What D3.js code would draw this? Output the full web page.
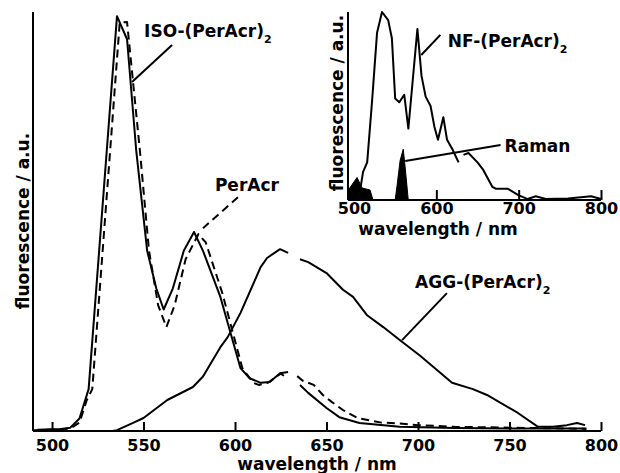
<!DOCTYPE html>
<meta charset="utf-8">
<head>
	<title>Fluorescence spectra</title>
	<style>
		body { margin: 0; background: #fff; }
		text { font-family: "DejaVu Sans", "Liberation Sans", sans-serif; font-weight: bold; fill: #000; }
		.curve { fill: none; stroke: #000; stroke-width: 2; stroke-linejoin: round; }
		.dashed { stroke-dasharray: 8,5; }
		.axis { stroke: #000; stroke-width: 2; fill: none; }
		.lead { stroke: #000; stroke-width: 2; }
	</style>
	<script src="https://d3js.org/d3.v7.min.js"></script>
</head>
<body>
<div id="graph"></div>
<script>
	// main spectra (wavelength in nm, intensity normalised); null = break in the trace at 630 nm
	const isoWl  = [492, 500, 505, 510, 515, 520, 535.5, 541, 546, 552, 557, 561, 566, 572, 577.6, 582.5, 592, 603, 608, 614, 619, 624.6, 629, 630, 635.5, 640, 650, 657, 668, 690, 720, 750, 780, 792];
	const isoVal = [0.003, 0.004, 0.005, 0.008, 0.03, 0.10, 0.99, 0.935, 0.67, 0.43, 0.34, 0.29, 0.34, 0.43, 0.475, 0.43, 0.32, 0.15, 0.126, 0.115, 0.117, 0.138, 0.141, null, 0.11, 0.091, 0.055, 0.033, 0.019, 0.010, 0.007, 0.006, 0.006, 0.006];

	const perWl  = [490, 500, 510, 515, 519, 522, 537, 541, 548, 553, 558, 562.5, 567, 573, 580, 584, 593, 604, 610, 613, 618, 623, 625, 629, 630, 634, 637, 643, 648, 653, 659, 667, 680, 690, 700, 720, 750, 780, 792];
	const perVal = [0.002, 0.003, 0.006, 0.02, 0.074, 0.10, 0.975, 0.976, 0.67, 0.43, 0.30, 0.248, 0.30, 0.41, 0.47, 0.45, 0.33, 0.15, 0.115, 0.11, 0.115, 0.131, 0.137, 0.125, null, 0.131, 0.12, 0.11, 0.086, 0.069, 0.05, 0.031, 0.02, 0.018, 0.014, 0.01, 0.008, 0.006, 0.005];

	const aggWl  = [533, 535.5, 544, 550, 563, 577, 582.5, 592, 596, 603, 614, 617.5, 624.6, 629, 630, 635.5, 640, 650, 659, 664.5, 672, 681, 690, 701, 718.6, 730, 737.7, 754.6, 765.6, 773.8, 781.4, 786.9, 791.3];
	const aggVal = [0, 0.002, 0.019, 0.031, 0.074, 0.105, 0.13, 0.20, 0.224, 0.282, 0.391, 0.413, 0.434, 0.425, null, 0.41, 0.403, 0.377, 0.337, 0.32, 0.277, 0.248, 0.217, 0.18, 0.115, 0.100, 0.086, 0.043, 0.010, 0.010, 0.014, 0.019, 0.014];

	// inset: NF-(PerAcr)2 and Raman band
	const nfWl  = [493, 501, 507, 511, 516, 522, 528, 534, 541.5, 546, 550, 555, 561, 566, 577, 582, 587, 593, 597.6, 602, 608.5, 613, 619.5, 627, 630, 633, 639, 650, 657, 668, 672, 686.6, 699, 711, 720.7, 733, 760, 788, 800];
	const nfVal = [0.005, 0.02, 0.04, 0.15, 0.20, 0.53, 0.89, 1.0, 0.957, 0.86, 0.54, 0.52, 0.56, 0.38, 0.91, 0.66, 0.55, 0.50, 0.39, 0.32, 0.44, 0.32, 0.27, 0.20, null, 0.24, 0.25, 0.20, 0.16, 0.07, 0.06, 0.06, 0.027, 0.005, 0.02, 0.005, 0.008, 0.02, 0.005];

	const ramanWl  = [492.7, 492.7, 503.7, 509.8, 519.5, 523, 550, 552.4, 556, 559.8, 562, 565.9];
	const ramanVal = [0, 0.05, 0.12, 0.064, 0.053, 0, 0, 0.08, 0.21, 0.27, 0.18, 0];

	const mainTicks  = [500, 550, 600, 650, 700, 750, 800];
	const insetTicks = [500, 600, 700, 800];

	const W = 620, H = 473;
	const svg = d3.select('#graph').append('svg').attr('width', W).attr('height', H);

	const zip = (a, b) => a.map((w, i) => [w, b[i]]);

	// main plot
	const x = d3.scaleLinear().domain([489.6, 800]).range([33, 601]);
	const y = d3.scaleLinear().domain([0, 1]).range([431, 12]);
	const line = d3.line().defined(d => d[1] != null).x(d => x(d[0])).y(d => y(d[1]));

	svg.append('path').attr('class', 'curve').attr('d', line(zip(isoWl, isoVal)));
	svg.append('path').attr('class', 'curve dashed').attr('d', line(zip(perWl, perVal)));
	svg.append('path').attr('class', 'curve').attr('d', line(zip(aggWl, aggVal)));

	const xAxis = d3.axisBottom(x).tickValues(mainTicks).tickSizeInner(-9).tickSizeOuter(0);
	const gx = svg.append('g').attr('transform', 'translate(0,431)').call(xAxis);
	gx.select('.domain').attr('stroke-width', 2).attr('d', `M${x.range()[0]},0H${x.range()[1]}`);
	gx.selectAll('.tick line').attr('stroke-width', 2);
	gx.selectAll('.tick text').attr('y', 20).attr('dy', 0).style('font-size', '16px').style('font-family', null);
	svg.append('line').attr('class', 'axis').attr('x1', 33).attr('x2', 33).attr('y1', 431).attr('y2', y.range()[1]);

	svg.append('text').attr('x', 317).attr('y', 470).attr('text-anchor', 'middle').style('font-size', '17px').text('wavelength / nm');
	svg.append('text').attr('transform', 'translate(29,221) rotate(-90)').attr('text-anchor', 'middle').style('font-size', '17px').text('fluorescence / a.u.');

	// inset
	const xi = d3.scaleLinear().domain([492.7, 800]).range([348, 601]);
	const yi = d3.scaleLinear().domain([0, 1]).range([200, 12]);
	const linei = d3.line().defined(d => d[1] != null).x(d => xi(d[0])).y(d => yi(d[1]));

	svg.append('path').attr('d', linei(zip(ramanWl, ramanVal))).attr('fill', '#000').attr('stroke', '#000').attr('stroke-width', 1);
	svg.append('path').attr('class', 'curve').attr('d', linei(zip(nfWl, nfVal)));

	const xiAxis = d3.axisBottom(xi).tickValues(insetTicks).tickSizeInner(-10).tickSizeOuter(0);
	const gxi = svg.append('g').attr('transform', 'translate(0,200)').call(xiAxis);
	gxi.select('.domain').attr('stroke-width', 2).attr('d', `M${xi.range()[0]},0H${xi.range()[1]}`);
	gxi.selectAll('.tick line').attr('stroke-width', 2);
	gxi.selectAll('.tick text').attr('y', 14).attr('dy', 0).style('font-size', '16px').style('font-family', null);
	svg.append('line').attr('class', 'axis').attr('x1', 348).attr('x2', 348).attr('y1', 200).attr('y2', yi.range()[1]);

	svg.append('text').attr('x', 438).attr('y', 235).attr('text-anchor', 'middle').style('font-size', '17px').text('wavelength / nm');
	svg.append('text').attr('transform', 'translate(343,103) rotate(-90)').attr('text-anchor', 'middle').style('font-size', '17px').text('fluorescence / a.u.');

	// labels with leader lines (data coordinates)
	const labels = [
		{ name: 'ISO-(PerAcr)', sub: '2', sx: x, sy: y, at: [550.3, 0.94], from: [565.6, 0.921], to: [543.7, 0.833], dash: false },
		{ name: 'PerAcr', sub: '', sx: x, sy: y, at: [589, 0.573], from: [601.6, 0.558], to: [582.5, 0.484], dash: true },
		{ name: 'AGG-(PerAcr)', sub: '2', sx: x, sy: y, at: [698.4, 0.341], from: [715.8, 0.329], to: [691.3, 0.217], dash: false },
		{ name: 'NF-(PerAcr)', sub: '2', sx: xi, sy: yi, at: [614, 0.814], from: [604.9, 0.878], to: [581.7, 0.771], dash: false },
		{ name: 'Raman', sub: '', sx: xi, sy: yi, at: [682.9, 0.255], from: [678, 0.293], to: [562.2, 0.207], dash: false }
	];

	labels.forEach(l => {
		svg.append('line').attr('class', 'lead')
			.attr('x1', l.sx(l.from[0])).attr('y1', l.sy(l.from[1]))
			.attr('x2', l.sx(l.to[0])).attr('y2', l.sy(l.to[1]))
			.attr('stroke-dasharray', l.dash ? '8,5' : null);
		const t = svg.append('text').attr('x', l.sx(l.at[0])).attr('y', l.sy(l.at[1])).style('font-size', '17px').text(l.name);
		if (l.sub) t.append('tspan').attr('dy', 6).style('font-size', '11px').text(l.sub);
	});
</script>
</body>
